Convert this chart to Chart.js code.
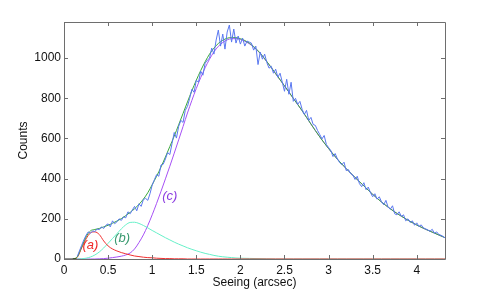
<!DOCTYPE html>
<html>
<head>
<meta charset="utf-8">
<script src="https://cdn.jsdelivr.net/npm/chart.js@4.4.0/dist/chart.umd.min.js"></script>
<style>
  html, body { margin: 0; padding: 0; background: #fff; }
  canvas { display: block; }
</style>
</head>
<body>
<canvas id="chart" width="491" height="292"></canvas>
<script>
// measured histogram: bins start at 0.15 arcsec, 0.025 wide
const binStart = 0.15;
const binWidth = 0.025;
const counts = [
  12, 40, 68, 95, 118, 135, 128, 140, 136, 150, 146, 160, 152, 168, 175, 160,
  190, 176, 185, 200, 192, 210, 205, 235, 225, 244, 262, 240, 275, 262, 296, 302,
  292, 325, 368, 395, 420, 412, 468, 472, 498, 530, 520, 575, 630, 602, 660, 690,
  680, 740, 760, 800, 845, 830, 890, 880, 935, 915, 975, 990, 1000, 1050, 1020, 1090,
  1140, 1060, 1120, 1045, 1130, 1165, 1080, 1145, 1075, 1110, 1070, 1100, 1060, 1085, 1080, 1075,
  1040, 1060, 968, 1030, 995, 1020, 978, 950, 960, 925, 945, 905, 925, 880, 835, 895,
  820, 880, 785, 800, 770, 785, 745, 720, 740, 690, 705, 670, 665, 640, 620, 598,
  615, 570, 555, 540, 510, 525, 498, 480, 470, 482, 440, 445, 425, 418, 396, 412,
  375, 360, 380, 345, 358, 330, 310, 325, 298, 310, 285, 270, 292, 258, 248, 265,
  225, 220, 235, 212, 220, 190, 200, 182, 190, 168, 180, 162, 170, 155, 150, 145,
  138, 148, 128, 135, 122, 118, 112, 104
];

// fitted model, sampled at fitX
const fitX = [
  0.10, 0.15, 0.20, 0.25, 0.30, 0.35, 0.40, 0.45, 0.50, 0.55, 0.60, 0.65, 0.70,
  0.75, 0.80, 0.85, 0.90, 0.95, 1.00, 1.05, 1.10, 1.15, 1.20, 1.25, 1.30, 1.35,
  1.40, 1.45, 1.50, 1.55, 1.60, 1.65, 1.70, 1.75, 1.80, 1.85, 1.90, 1.95, 2.00,
  2.1, 2.2, 2.3, 2.4, 2.5, 2.6, 2.7, 2.8, 2.9, 3.0, 3.1, 3.2, 3.3, 3.4, 3.5,
  3.6, 3.7, 3.8, 3.9, 4.0, 4.1, 4.2, 4.3, 4.32
];
const fitTotal = [
  0, 10, 60, 110, 140, 147, 152, 160, 168, 178, 189, 201, 216,
  232, 250, 272, 298, 330, 370, 412, 458, 508, 560, 612, 668, 725,
  782, 838, 890, 938, 982, 1020, 1050, 1073, 1089, 1099, 1103, 1102, 1097,
  1075, 1037, 983, 923, 862, 800, 738, 672, 608, 550, 497, 450, 406, 364, 322,
  284, 250, 220, 193, 169, 148, 129, 110, 106
];
const fitA = [
  0, 8, 55, 100, 130, 135, 122, 90, 65, 50, 40, 32, 26,
  20, 15, 12, 9, 7, 6, 4, 3, 2, 2, 1, 1, 1,
  0, 0, 0, 0, 0, 0, 0, 0, 0, 0, 0, 0, 0,
  0, 0, 0, 0, 0, 0, 0, 0, 0, 0, 0, 0, 0, 0, 0,
  0, 0, 0, 0, 0, 0, 0, 0, 0
];
const fitB = [
  0, 0, 1, 4, 10, 20, 35, 55, 78, 102, 126, 150, 170,
  182, 183, 177, 167, 155, 142, 130, 118, 106, 95, 84, 74, 65,
  56, 48, 41, 34, 28, 23, 18, 14, 11, 9, 7, 5, 4,
  3, 2, 1, 0, 0, 0, 0, 0, 0, 0, 0, 0, 0, 0, 0,
  0, 0, 0, 0, 0, 0, 0, 0, 0
];
const fitC = [
  0, 0, 0, 0, 0, 0, 1, 2, 4, 7, 10, 14, 20,
  30, 50, 82, 120, 167, 220, 277, 337, 399, 462, 527, 593, 660,
  727, 790, 849, 903, 952, 995, 1031, 1059, 1078, 1091, 1097, 1097, 1093,
  1072, 1035, 982, 922, 862, 800, 738, 672, 608, 550, 497, 450, 406, 364, 322,
  284, 250, 220, 193, 169, 148, 129, 110, 106
];
// empty histogram stretch left of the first bin
const zeroX = [0, 0.14];
const zeroY = [0, 0];

const xTicks = [0, 0.5, 1, 1.5, 2, 2.5, 3, 3.5, 4];
const yTicks = [0, 200, 400, 600, 800, 1000];

const labelText = ["(a)", "(b)", "(c)"];
const labelX = [0.30, 0.66, 1.20];
const labelY = [70, 105, 310];
const labelColors = ["#f02828", "#3a9a70", "#8c3ce0"];

const pts = (xs, ys) => xs.map((x, i) => ({ x: x, y: ys[i] }));
const histPts = counts.map((c, i) => ({ x: binStart + i * binWidth, y: c }));

const line = (data, color, smooth) => ({
  data: data,
  borderColor: color,
  borderWidth: 1,
  pointRadius: 0,
  fill: false,
  cubicInterpolationMode: smooth ? "monotone" : "default",
  tension: 0,
});

// box with inward ticks on all four sides, MATLAB style
const boxPlugin = {
  id: "box",
  afterDatasetsDraw(chart) {
    const { ctx, chartArea: a, scales } = chart;
    ctx.save();
    ctx.strokeStyle = "#6e6e6e";
    ctx.lineWidth = 1;
    ctx.beginPath();
    ctx.rect(Math.round(a.left) + 0.5, Math.round(a.top) + 0.5,
      Math.round(a.right - a.left), Math.round(a.bottom - a.top));
    const len = 4;
    xTicks.forEach((v) => {
      const px = Math.round(scales.x.getPixelForValue(v)) + 0.5;
      ctx.moveTo(px, a.bottom); ctx.lineTo(px, a.bottom - len);
      ctx.moveTo(px, a.top); ctx.lineTo(px, a.top + len);
    });
    yTicks.forEach((v) => {
      const py = Math.round(scales.y.getPixelForValue(v)) + 0.5;
      ctx.moveTo(a.left, py); ctx.lineTo(a.left + len, py);
      ctx.moveTo(a.right, py); ctx.lineTo(a.right - len, py);
    });
    ctx.stroke();

    ctx.font = "italic 13px 'Liberation Sans', Arial, sans-serif";
    ctx.textAlign = "center";
    ctx.textBaseline = "middle";
    labelText.forEach((t, i) => {
      ctx.fillStyle = labelColors[i];
      ctx.fillText(t, scales.x.getPixelForValue(labelX[i]), scales.y.getPixelForValue(labelY[i]));
    });
    ctx.restore();
  },
};

const font = { family: "'Liberation Sans', Arial, sans-serif", size: 12 };

new Chart(document.getElementById("chart"), {
  type: "line",
  data: {
    datasets: [
      line(histPts, "#5a78f0", false),
      line(pts(zeroX, zeroY), "#222222", false),
      line(pts(fitX, fitTotal), "#3aa83a", true),
      line(pts(fitX, fitA), "#f03030", true),
      line(pts(fitX, fitB), "#66f0c8", true),
      line(pts(fitX, fitC), "#a650f5", true),
    ],
  },
  options: {
    responsive: false,
    animation: false,
    layout: { padding: { left: 0, right: 46, top: 22, bottom: 0 } },
    plugins: { legend: { display: false }, tooltip: { enabled: false } },
    scales: {
      x: {
        type: "linear",
        min: 0,
        max: 4.32,
        grid: { display: false, drawTicks: false },
        border: { display: false },
        afterBuildTicks: (s) => { s.ticks = xTicks.map((v) => ({ value: v })); },
        afterFit: (s) => { s.height = 33; },
        ticks: { color: "#111", font: font, padding: 4, maxRotation: 0, autoSkip: false,
          callback: (v) => String(v) },
        title: { display: true, text: "Seeing (arcsec)", color: "#111", font: font,
          padding: { top: 0, bottom: 2 } },
      },
      y: {
        min: 0,
        max: 1180,
        grid: { display: false, drawTicks: false },
        border: { display: false },
        afterBuildTicks: (s) => { s.ticks = yTicks.map((v) => ({ value: v })); },
        afterFit: (s) => { s.width = 64; },
        ticks: { color: "#111", font: font, padding: 3, autoSkip: false,
          callback: (v) => String(v) },
        title: { display: true, text: "Counts", color: "#111", font: font,
          padding: { top: 16, bottom: 0 } },
      },
    },
  },
  plugins: [boxPlugin],
});
</script>
</body>
</html>
